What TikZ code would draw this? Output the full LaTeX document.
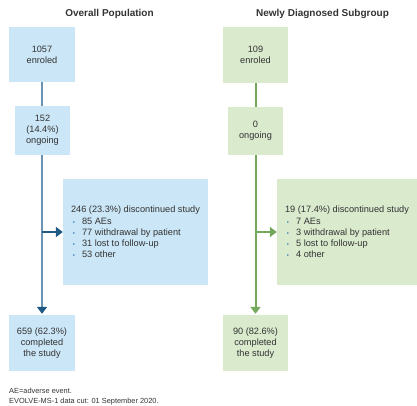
\documentclass[tikz,border=0pt]{standalone}
\usepackage{fontspec}
\setmainfont{Liberation Sans}
\usetikzlibrary{arrows.meta}
\definecolor{bluebox}{HTML}{CBE6F6}
\definecolor{greenbox}{HTML}{D9EACD}
\definecolor{blueline}{HTML}{6B92B0}
\definecolor{bluedark}{HTML}{1F5A85}
\definecolor{greenline}{HTML}{74A85A}
\definecolor{txt}{HTML}{333333}
\definecolor{bul}{HTML}{2E75B6}
\newcommand{\bitem}[1]{\hspace{1.7pt}\makebox[9.3pt][l]{{\color{bul}\fontsize{6}{6}\selectfont\textbullet}}#1}
\tikzset{
  box/.style={inner sep=0pt, align=center, text=txt,
    font=\fontsize{9.2}{11.2}\selectfont},
  bbox/.style={box, fill=bluebox},
  gbox/.style={box, fill=greenbox},
  title/.style={font=\fontsize{10}{12}\selectfont\bfseries, text=txt},
  bconn/.style={draw=blueline, line width=2.2pt},
  gconn/.style={draw=greenline, line width=2pt},
  btip/.style={-{Triangle[length=7pt,width=10pt,color=bluedark]}},
  gtip/.style={-{Triangle[length=7pt,width=10pt,color=greenline]}},
  note/.style={font=\fontsize{7.4}{9}\selectfont, text=txt, anchor=base west, inner sep=0pt}
}
\begin{document}
\begin{tikzpicture}[x=1pt,y=-1pt]
\useasboundingbox (0,0) rectangle (417,406);
% titles
\node[title] (tL) at (109.5,14) {Overall Population};
\node[title] (tR) at (322.5,14) {Newly Diagnosed Subgroup};
% left column
\node[bbox, minimum width=66pt, minimum height=55pt] (L1) at (42,54.5) {1057\\enroled};
\node[bbox, minimum width=55pt, minimum height=49pt] (L2) at (42.5,130.5) {152\\(14.4\%)\\ongoing};
\node[bbox, minimum width=145pt, minimum height=106pt, align=left] (L3) at (135.5,232) {246 (23.3\%) discontinued study\\\bitem{85 AEs}\\\bitem{77 withdrawal by patient}\\\bitem{31 lost to follow-up}\\\bitem{53 other}};
\node[bbox, minimum width=66pt, minimum height=56pt] (L4) at (42,343) {659 (62.3\%)\\completed\\the study};
% right column
\node[gbox, minimum width=65pt, minimum height=56pt] (R1) at (255.5,55) {109\\enroled};
\node[gbox, minimum width=55pt, minimum height=48pt] (R2) at (255.5,131) {0\\ongoing};
\node[gbox, minimum width=140pt, minimum height=106pt, align=left] (R3) at (347,232) {19 (17.4\%) discontinued study\\\bitem{7 AEs}\\\bitem{3 withdrawal by patient}\\\bitem{5 lost to follow-up}\\\bitem{4 other}};
\node[gbox, minimum width=65pt, minimum height=56pt] (R4) at (255.5,343) {90 (82.6\%)\\completed\\the study};
% connectors left
\draw[bconn] (L1.south) -- (L1.south |- L2.north);
\draw[bconn, btip, shorten >=1pt] (L1.south |- L2.south) -- (L1.south |- L4.north);
\coordinate (jL) at (L1.south |- L3.west);
\draw[draw=bluedark, line width=1.8pt, btip] (jL) -- (L3.west);
% connectors right
\draw[gconn] (R1.south) -- (R2.north);
\draw[gconn, gtip, shorten >=1pt] (R2.south) -- (R4.north);
\coordinate (jR) at (R2.south |- R3.west);
\draw[gconn, line width=1.8pt, gtip] (jR) -- (R3.west);
% footnotes
\node[note] (n1) at (9,393) {AE=adverse event.};
\node[note] (n2) at (9,403.5) {EVOLVE-MS-1 data cut: 01 September 2020.};
\end{tikzpicture}
\end{document}
